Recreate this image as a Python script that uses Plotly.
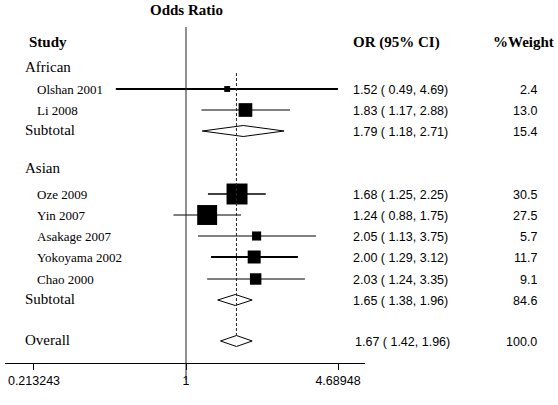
import math
import plotly.graph_objects as go

# ---------------- data ----------------
studies = ["Olshan 2001", "Li 2008", "Oze 2009", "Yin 2007",
           "Asakage 2007", "Yokoyama 2002", "Chao 2000"]
study_group = ["African", "African", "Asian", "Asian", "Asian", "Asian", "Asian"]
or_est = [1.52, 1.83, 1.68, 1.24, 2.05, 2.00, 2.03]
ci_lo = [0.49, 1.17, 1.25, 0.88, 1.13, 1.29, 1.24]
ci_hi = [4.69, 2.88, 2.25, 1.75, 3.75, 3.12, 3.35]
weights = [2.4, 13.0, 30.5, 27.5, 5.7, 11.7, 9.1]

pooled_labels = ["Subtotal", "Subtotal", "Overall"]
pooled_est = [1.79, 1.65, 1.67]
pooled_lo = [1.18, 1.38, 1.42]
pooled_hi = [2.71, 1.96, 1.96]
pooled_weight = [15.4, 84.6, 100.0]

group_names = ["African", "Asian"]
tick_vals = [0.213243, 1, 4.68948]
tick_text = ["0.213243", "1", "4.68948"]

# ---------------- layout (positions / styles) ----------------
W, H = 558, 405
study_rows = [89, 110, 194, 215, 236, 257, 279]
pooled_rows = [131, 300, 341]
group_rows = [67, 168]
header_row = 42
ci_widths = [2, 1, 1.3, 1, 1, 2, 1]
SERIF = "Liberation Serif, Times New Roman, serif"
SANS = "Liberation Sans, Arial, sans-serif"

x_left_px, x_right_px, one_px = 5, 365, 186
px_per_dec = 226.5
xr = [(x_left_px - one_px) / px_per_dec, (x_right_px - one_px) / px_per_dec]
axis_y_px = 363

fig = go.Figure()

# CI lines
for i in range(len(studies)):
    fig.add_trace(go.Scatter(x=[ci_lo[i], ci_hi[i]], y=[study_rows[i]] * 2,
                             mode="lines", line=dict(color="black", width=ci_widths[i]),
                             hoverinfo="skip", showlegend=False))
# weighted squares
fig.add_trace(go.Scatter(x=or_est, y=study_rows, mode="markers",
                         marker=dict(symbol="square", color="black", opacity=1,
                                     size=[3.8 * math.sqrt(w) for w in weights],
                                     line=dict(width=0)),
                         showlegend=False, hoverinfo="skip"))
# diamonds
h = 5.5
for i in range(len(pooled_est)):
    y = pooled_rows[i]
    fig.add_trace(go.Scatter(x=[pooled_lo[i], pooled_est[i], pooled_hi[i], pooled_est[i], pooled_lo[i]],
                             y=[y, y - h, y, y + h, y], mode="lines", fill="toself",
                             fillcolor="white", line=dict(color="black", width=1),
                             hoverinfo="skip", showlegend=False))

shapes = [
    dict(type="line", xref="x", yref="paper", x0=1, x1=1, y0=1 - 380 / H, y1=1 - 27 / H,
         line=dict(color="#222", width=1)),
    dict(type="line", xref="x", yref="y", x0=pooled_est[-1], x1=pooled_est[-1], y0=73, y1=pooled_rows[-1] - h,
         line=dict(color="#222", width=1, dash="3px,2px")),
]

ann = []
def txt(x, y, s, font, size, anchor="left", bold=False):
    ann.append(dict(xref="paper", yref="y", x=x / W, y=y, text=("<b>%s</b>" % s) if bold else s,
                    showarrow=False, xanchor=anchor, yanchor="middle",
                    font=dict(family=font, size=size, color="black")))

txt(186, 10, "Odds Ratio", SERIF, 15, "center", True)
txt(27, header_row, "Study", SERIF, 15, "left", True)
txt(351, header_row, "OR (95% CI)", SERIF, 15, "left", True)
txt(556, header_row, "%Weight", SERIF, 15, "right", True)
for g, y in zip(group_names, group_rows):
    txt(23, y, g, SERIF, 15)
for i, s in enumerate(studies):
    txt(35, study_rows[i], s, SERIF, 13)
    txt(351, study_rows[i] + 1, "%.2f (%5.2f, %.2f)" % (or_est[i], ci_lo[i], ci_hi[i]), SANS, 12.5)
    txt(539, study_rows[i] + 1, "%.1f" % weights[i], SANS, 12.5, "right")
for i, s in enumerate(pooled_labels):
    txt(23, pooled_rows[i] - 1, s, SERIF, 15)
    txt(351 + (2 if s == "Overall" else 0), pooled_rows[i] + 1,
        "%.2f (%5.2f, %.2f)" % (pooled_est[i], pooled_lo[i], pooled_hi[i]), SANS, 12.5)
    txt(539, pooled_rows[i] + 1, "%.1f" % pooled_weight[i], SANS, 12.5, "right")

fig.update_layout(
    width=W, height=H, margin=dict(l=0, r=0, t=0, b=0),
    paper_bgcolor="white", plot_bgcolor="white",
    shapes=shapes, annotations=ann, showlegend=False,
    xaxis=dict(type="log", range=xr, domain=[x_left_px / W, x_right_px / W],
               showline=True, linecolor="black", linewidth=1,
               ticks="outside", ticklen=6, tickcolor="black", tickwidth=1,
               tickvals=tick_vals, ticktext=tick_text,
               tickfont=dict(family=SANS, size=12.5, color="black"),
               showgrid=False, zeroline=False),
    yaxis=dict(range=[axis_y_px, 0], domain=[(H - axis_y_px) / H, 1],
               showline=False, ticks="", showticklabels=False,
               showgrid=False, zeroline=False),
)

fig.write_html("out.html", config={"displayModeBar": False},
               post_script="document.body.style.margin='0';document.body.style.overflow='hidden';")
